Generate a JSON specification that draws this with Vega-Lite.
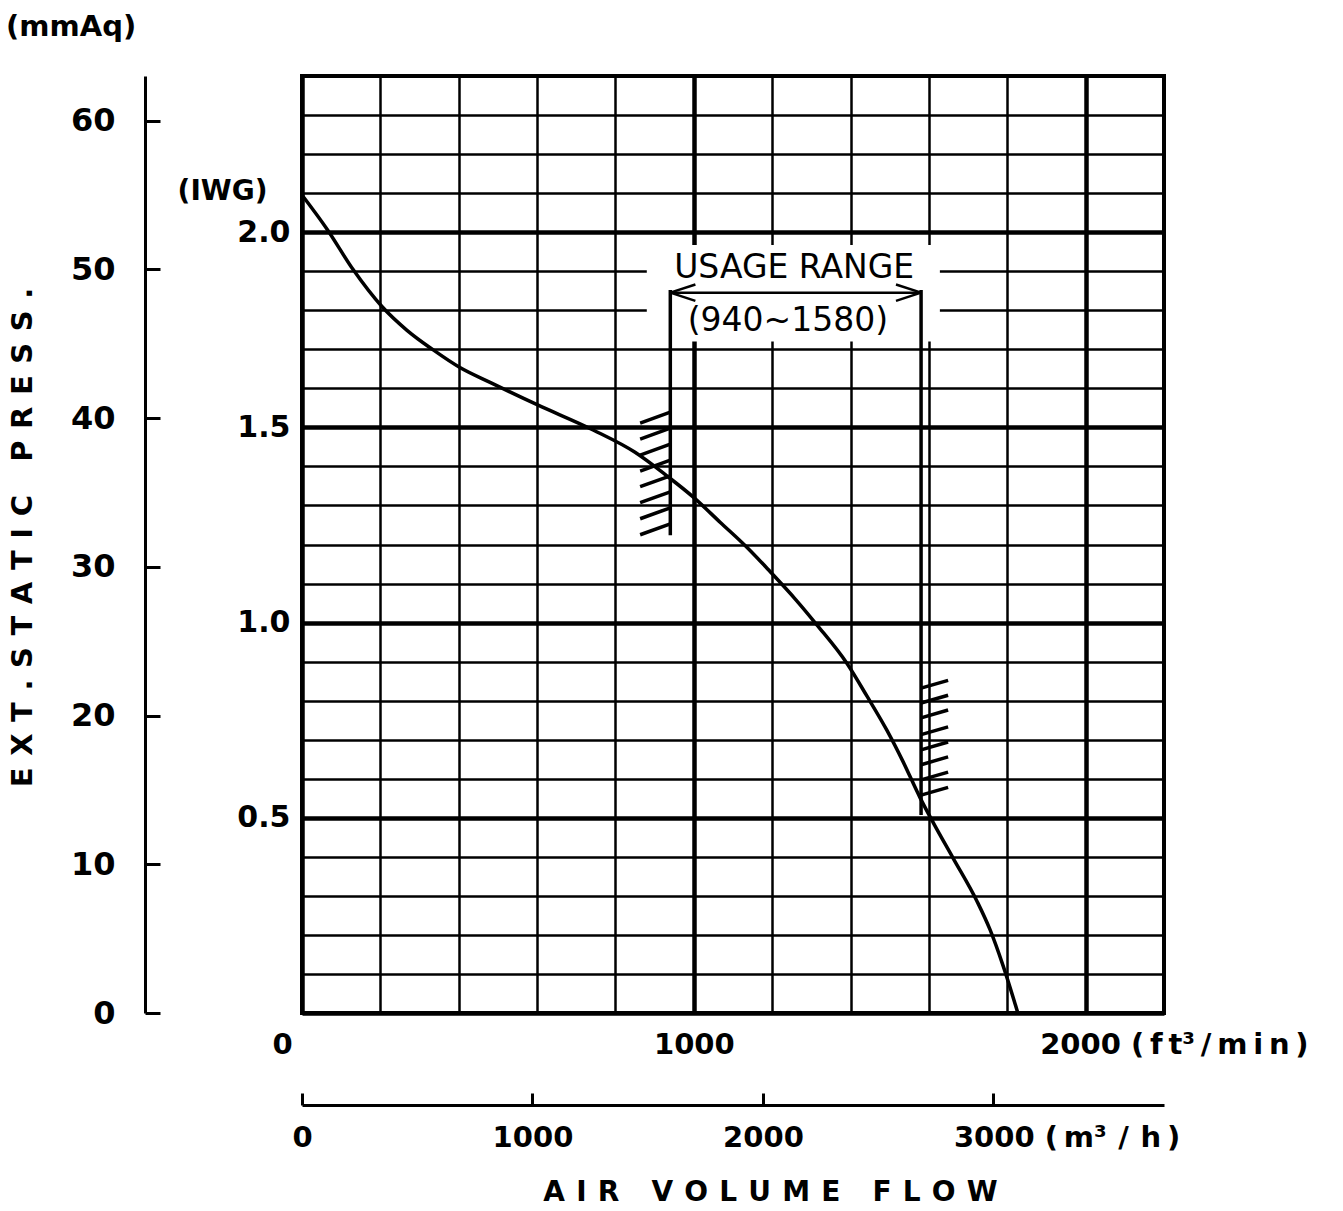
{
  "$schema": "https://vega.github.io/schema/vega-lite/v6.json",
  "width": 862,
  "height": 937,
  "autosize": {"type": "none"},
  "padding": {"left": 302, "top": 76, "right": 179, "bottom": 198},
  "background": "white",
  "title": {"text": "(mmAq)", "anchor": "start", "frame": "group", "dx": -296, "offset": 19, "fontSize": 29, "font": "DejaVu Sans", "fontWeight": "bold", "color": "black"},
  "config": {
    "view": {"stroke": "black", "strokeWidth": 4},
    "font": "DejaVu Sans",
    "axis": {"labelFont": "DejaVu Sans", "titleFont": "DejaVu Sans", "labelColor": "black", "titleColor": "black", "gridColor": "black", "gridOpacity": 1, "domainColor": "black", "tickColor": "black", "titleFontWeight": "bold", "labelFontWeight": "bold", "labelLimit": 400}
  },
  "resolve": {"scale": {"x": "independent", "y": "independent"}, "axis": {"x": "independent", "y": "independent"}},
  "layer": [
    {
      "encoding": {
        "x": {"field": "cfm", "type": "quantitative", "scale": {"domain": [0, 2200], "nice": false, "zero": false},
          "axis": {
            "orient": "bottom",
            "values": [0, 200, 400, 600, 800, 1000, 1200, 1400, 1600, 1800, 2000, 2200],
            "grid": true,
            "gridWidth": {"condition": {"test": "datum.value % 1000 == 0", "value": 4.5}, "value": 2.5},
            "ticks": false, "domain": false,
            "labelExpr": "datum.value == 0 ? '0' : datum.value == 1000 ? '1000' : datum.value == 2000 ? '2000 (\u2009f\u2009t³\u2009/\u2009m\u2009i\u2009n\u2009)' : ''",
            "labelAlign": {"condition": {"test": "datum.value == 2000", "value": "left"}, "value": "center"},
            "labelOffset": {"condition": [{"test": "datum.value == 2000", "value": -46}, {"test": "datum.value == 0", "value": -20}], "value": 0},
            "labelFontSize": 29, "labelPadding": 17, "labelFlush": false, "labelOverlap": false, "labelBound": false, "labelLimit": 400,
            "title": null
          }},
        "y": {"field": "iwg", "type": "quantitative", "scale": {"domain": [0, 2.4], "nice": false, "zero": false},
          "axis": {
            "orient": "left",
            "values": [0, 0.1, 0.2, 0.3, 0.4, 0.5, 0.6, 0.7, 0.8, 0.9, 1.0, 1.1, 1.2, 1.3, 1.4, 1.5, 1.6, 1.7, 1.8, 1.9, 2.0, 2.1, 2.2, 2.3, 2.4],
            "grid": true,
            "gridWidth": {"condition": {"test": "round(datum.value*10) % 5 == 0", "value": 4.5}, "value": 2.5},
            "ticks": false, "domain": false,
            "labelExpr": "round(datum.value*10) % 5 == 0 && datum.value > 0 ? format(datum.value, '.1f') : ''",
            "labelFontSize": 30, "labelPadding": 12, "labelOverlap": false, "labelFlush": false,
            "title": "(IWG)", "titleAngle": 0, "titleAlign": "right", "titleBaseline": "middle", "titleX": -35, "titleY": 115, "titleFontSize": 28
          }}
      },
      "layer": [
        {
          "data": {"values": [{"cfm": 880, "iwg": 1.72, "cfm2": 1628, "iwg2": 1.967}]},
          "mark": {"type": "rect", "fill": "white", "stroke": null},
          "encoding": {"x2": {"field": "cfm2"}, "y2": {"field": "iwg2"}}
        },
        {
          "data": {"values": [
            {"cfm": 940, "iwg": 1.224, "cfm2": 940, "iwg2": 1.852},
            {"cfm": 1580, "iwg": 0.507, "cfm2": 1580, "iwg2": 1.852},
            {"cfm": 940, "iwg": 1.539, "cfm2": 863, "iwg2": 1.511},
            {"cfm": 940, "iwg": 1.498, "cfm2": 863, "iwg2": 1.470},
            {"cfm": 940, "iwg": 1.457, "cfm2": 863, "iwg2": 1.429},
            {"cfm": 940, "iwg": 1.416, "cfm2": 863, "iwg2": 1.388},
            {"cfm": 940, "iwg": 1.376, "cfm2": 863, "iwg2": 1.348},
            {"cfm": 940, "iwg": 1.335, "cfm2": 863, "iwg2": 1.307},
            {"cfm": 940, "iwg": 1.294, "cfm2": 863, "iwg2": 1.266},
            {"cfm": 940, "iwg": 1.253, "cfm2": 863, "iwg2": 1.225},
            {"cfm": 1580, "iwg": 0.832, "cfm2": 1649, "iwg2": 0.852},
            {"cfm": 1580, "iwg": 0.794, "cfm2": 1649, "iwg2": 0.814},
            {"cfm": 1580, "iwg": 0.756, "cfm2": 1649, "iwg2": 0.776},
            {"cfm": 1580, "iwg": 0.713, "cfm2": 1649, "iwg2": 0.733},
            {"cfm": 1580, "iwg": 0.674, "cfm2": 1649, "iwg2": 0.694},
            {"cfm": 1580, "iwg": 0.636, "cfm2": 1649, "iwg2": 0.656},
            {"cfm": 1580, "iwg": 0.597, "cfm2": 1649, "iwg2": 0.617},
            {"cfm": 1580, "iwg": 0.558, "cfm2": 1649, "iwg2": 0.578}
          ]},
          "mark": {"type": "rule", "color": "black", "strokeWidth": 3.5},
          "encoding": {"x2": {"field": "cfm2"}, "y2": {"field": "iwg2"}}
        },
        {
          "data": {"values": [
            {"cfm": 940, "iwg": 1.845, "cfm2": 1580, "iwg2": 1.845},
            {"cfm": 940, "iwg": 1.845, "cfm2": 1004, "iwg2": 1.866},
            {"cfm": 940, "iwg": 1.845, "cfm2": 1004, "iwg2": 1.824},
            {"cfm": 1580, "iwg": 1.845, "cfm2": 1516, "iwg2": 1.866},
            {"cfm": 1580, "iwg": 1.845, "cfm2": 1516, "iwg2": 1.824}
          ]},
          "mark": {"type": "rule", "color": "black", "strokeWidth": 2.5},
          "encoding": {"x2": {"field": "cfm2"}, "y2": {"field": "iwg2"}}
        },
        {
          "data": {"values": [
            {"cfm": 1256, "iwg": 1.908, "label": "USAGE RANGE"},
            {"cfm": 1240, "iwg": 1.772, "label": "(940~1580)"}
          ]},
          "mark": {"type": "text", "font": "DejaVu Sans", "fontSize": 33, "color": "black", "align": "center", "baseline": "middle"},
          "encoding": {"text": {"field": "label"}}
        }
      ]
    },
    {
      "data": {"values": [
        {"cfm": 0, "mmAq": 55.0}, {"cfm": 64, "mmAq": 52.7}, {"cfm": 130, "mmAq": 50.0}, {"cfm": 204, "mmAq": 47.5},
        {"cfm": 268, "mmAq": 45.9}, {"cfm": 334, "mmAq": 44.6}, {"cfm": 403, "mmAq": 43.4}, {"cfm": 480, "mmAq": 42.4},
        {"cfm": 600, "mmAq": 40.9}, {"cfm": 743, "mmAq": 39.2}, {"cfm": 850, "mmAq": 37.7}, {"cfm": 932, "mmAq": 36.1},
        {"cfm": 998, "mmAq": 34.7}, {"cfm": 1067, "mmAq": 33.0}, {"cfm": 1136, "mmAq": 31.3}, {"cfm": 1194, "mmAq": 29.7},
        {"cfm": 1260, "mmAq": 27.8}, {"cfm": 1314, "mmAq": 26.1}, {"cfm": 1391, "mmAq": 23.5}, {"cfm": 1442, "mmAq": 21.3},
        {"cfm": 1493, "mmAq": 19.0}, {"cfm": 1534, "mmAq": 16.9}, {"cfm": 1577, "mmAq": 14.5}, {"cfm": 1611, "mmAq": 12.8},
        {"cfm": 1662, "mmAq": 10.4}, {"cfm": 1723, "mmAq": 7.5}, {"cfm": 1756, "mmAq": 5.6}, {"cfm": 1789, "mmAq": 3.2},
        {"cfm": 1827, "mmAq": 0}
      ]},
      "mark": {"type": "line", "color": "black", "strokeWidth": 3.5, "interpolate": "monotone"},
      "encoding": {
        "x": {"field": "cfm", "type": "quantitative", "scale": {"domain": [0, 2200], "nice": false, "zero": false}, "axis": null},
        "y": {"field": "mmAq", "type": "quantitative", "scale": {"domain": [0, 63], "nice": false, "zero": false},
          "axis": {
            "orient": "left", "offset": 157, "values": [0, 10, 20, 30, 40, 50, 60], "format": "d",
            "grid": false, "domain": true, "domainWidth": 3, "ticks": true, "tickSize": -15, "tickWidth": 3,
            "labelFontSize": 32, "labelPadding": 45, "labelFlush": false, "labelOverlap": false,
            "title": "E\u2009\u2009X\u2009\u2009T\u2009\u2009.\u2009\u2009S\u2009\u2009T\u2009\u2009A\u2009\u2009T\u2009\u2009I\u2009\u2009C\u2009\u2009 \u2009\u2009P\u2009\u2009R\u2009\u2009E\u2009\u2009S\u2009\u2009S\u2009\u2009.",
            "titleFontSize": 29, "titleX": -108, "titleY": 461, "titleAngle": 270, "titleBaseline": "bottom", "titleAlign": "center"
          }}
      }
    },
    {
      "data": {"values": [{"m3h": 0}, {"m3h": 3740}]},
      "mark": {"type": "point", "opacity": 0},
      "encoding": {
        "x": {"field": "m3h", "type": "quantitative", "scale": {"domain": [0, 3740], "nice": false, "zero": false},
          "axis": {
            "orient": "bottom", "offset": 92, "values": [0, 1000, 2000, 3000],
            "grid": false, "domain": true, "domainWidth": 3, "ticks": true, "tickSize": -12, "tickWidth": 3,
            "labelExpr": "datum.value == 3000 ? '3000 (\u2009m³\u2009\u2009/\u2009\u2009h\u2009)' : format(datum.value, 'd')",
            "labelAlign": {"condition": {"test": "datum.value == 3000", "value": "left"}, "value": "center"},
            "labelOffset": {"condition": {"test": "datum.value == 3000", "value": -40}, "value": 0},
            "labelFontSize": 29, "labelPadding": 30, "labelFlush": false, "labelOverlap": false, "labelBound": false, "labelLimit": 400,
            "title": "A\u2009\u2009I\u2009\u2009R\u2009\u2009 \u2009\u2009V\u2009\u2009O\u2009\u2009L\u2009\u2009U\u2009\u2009M\u2009\u2009E\u2009\u2009 \u2009\u2009F\u2009\u2009L\u2009\u2009O\u2009\u2009W",
            "titleFontSize": 28, "titleX": 468, "titleY": 87, "titleBaseline": "middle", "titleAlign": "center"
          }}
      }
    }
  ]
}
